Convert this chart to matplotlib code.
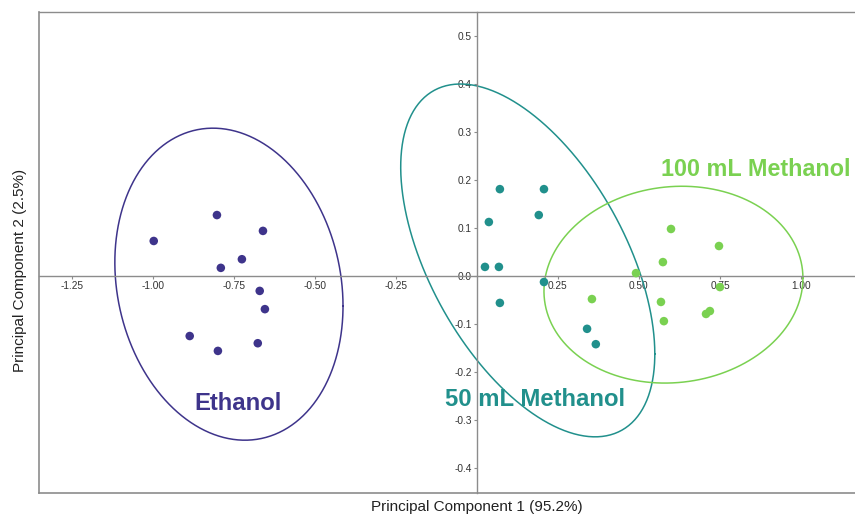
import numpy as np
import matplotlib
matplotlib.use("Agg")
import matplotlib.pyplot as plt
from matplotlib.lines import Line2D

plt.rcParams['font.family'] = ['Liberation Sans', 'DejaVu Sans']

# scores (PC1, PC2)
ethanol_x = [-0.997, -0.802, -0.660, -0.725, -0.790, -0.670, -0.654, -0.886, -0.799, -0.676]
ethanol_y = [0.073, 0.127, 0.094, 0.035, 0.017, -0.031, -0.069, -0.125, -0.156, -0.140]

meoh50_x = [0.071, 0.207, 0.037, 0.191, 0.025, 0.068, 0.207, 0.071, 0.340, 0.367]
meoh50_y = [0.181, 0.181, 0.1125, 0.127, 0.019, 0.019, -0.0125, -0.056, -0.110, -0.142]

meoh100_x = [0.599, 0.747, 0.574, 0.491, 0.750, 0.355, 0.568, 0.577, 0.707, 0.719]
meoh100_y = [0.098, 0.0625, 0.029, 0.006, -0.023, -0.048, -0.054, -0.094, -0.079, -0.073]

# confidence ellipses: centre x, centre y, half width, half height, correlation
ethanol_ell = (-0.765, -0.017, 0.352, 0.325, -0.14)
meoh50_ell = (0.157, 0.0325, 0.392, 0.3675, -0.53)
meoh100_ell = (0.6065, -0.018, 0.3995, 0.205, 0.066)

x_ticks = [-1.25, -1.00, -0.75, -0.50, -0.25, 0.25, 0.50, 0.75, 1.00]
y_ticks = [-0.4, -0.3, -0.2, -0.1, 0.0, 0.1, 0.2, 0.3, 0.4, 0.5]

c_eth = '#3e348b'
c_50 = '#21908c'
c_100 = '#7ad151'


def ellipse_xy(cx, cy, wx, wy, rho):
    t = np.linspace(0, 2 * np.pi, 300)
    x = cx + wx * np.cos(t)
    y = cy + wy * (rho * np.cos(t) + np.sqrt(1 - rho ** 2) * np.sin(t))
    return x, y


fig = plt.figure(figsize=(8.55, 5.14), dpi=100)
ax = fig.add_axes([39 / 855, 21 / 514, (865.8 - 39) / 855, 481 / 514])
ax.set_xlim(-1.351, 1.2)
ax.set_ylim(-0.452, 0.55)

groups = [
    (ethanol_x, ethanol_y, ethanol_ell, c_eth),
    (meoh50_x, meoh50_y, meoh50_ell, c_50),
    (meoh100_x, meoh100_y, meoh100_ell, c_100),
]
for gx, gy, ell, col in groups:
    ex, ey = ellipse_xy(*ell)
    ax.plot(ex, ey, color=col, lw=1.1, zorder=2)
    ax.scatter(gx, gy, s=38, color=col, edgecolors='none', zorder=3)

ax.text(-0.738, -0.265, 'Ethanol', color=c_eth, fontsize=17.2, fontweight='bold',
        ha='center', va='center')
ax.text(0.179, -0.258, '50 mL Methanol', color=c_50, fontsize=17.2, fontweight='bold',
        ha='center', va='center')
ax.text(0.569, 0.221, '100 mL Methanol', color=c_100, fontsize=16.8, fontweight='bold',
        ha='left', va='center')

# axes crossing at origin
gray = '#8c8c8c'
ax.spines['left'].set_position(('data', 0))
ax.spines['bottom'].set_position(('data', 0))
ax.spines['right'].set_visible(False)
for s in ['left', 'bottom', 'top']:
    ax.spines[s].set_color(gray)
    ax.spines[s].set_linewidth(1.0)

# outer frame
ax.add_line(Line2D([0, 0], [0, 1], transform=ax.transAxes, color=gray, lw=1.2, clip_on=False))
ax.add_line(Line2D([0, 1], [0, 0], transform=ax.transAxes, color=gray, lw=1.2, clip_on=False))

ax.set_xticks(x_ticks)
ax.set_xticklabels(['%.2f' % v for v in x_ticks])
ax.set_yticks(y_ticks)
ax.set_yticklabels(['%.1f' % v for v in y_ticks])
ax.tick_params(axis='both', labelsize=7.3, colors='#333333', length=2.5, width=0.8, pad=1)
ax.tick_params(axis='x', color=gray)
ax.tick_params(axis='y', color=gray)

fig.text(476.5 / 855, 1 - 507 / 514, 'Principal Component 1 (95.2%)', fontsize=11,
         ha='center', va='center', color='#222222')
fig.text(20 / 855, 1 - 270.5 / 514, 'Principal Component 2 (2.5%)', fontsize=11,
         ha='center', va='center', rotation=90, color='#222222')

fig.savefig('out.png', dpi=100)
